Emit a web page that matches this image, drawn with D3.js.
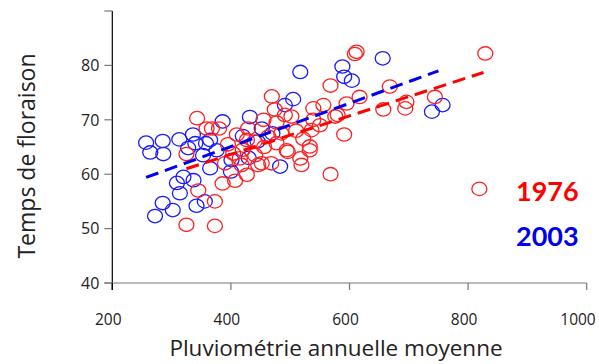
<!DOCTYPE html>
<html>
<head>
<meta charset="utf-8">
<script src="https://cdn.jsdelivr.net/npm/d3@7"></script>
<style>
  body { margin: 0; background: #fff; }
  svg text { font-family: "Open Sans", "Noto Sans", sans-serif; }
</style>
</head>
<body>
<div id="chart"></div>
<script>
// 1976 : pluviométrie / temps de floraison
const rain1976 = [469, 474, 491, 477, 343, 359, 368, 380, 410, 429, 427, 463, 477, 494, 325, 404, 415, 441, 452, 468,
  345, 373, 325, 373, 386, 407, 427, 418, 446, 390, 568, 519, 517, 496, 533, 819,
  612, 609, 568, 668, 617, 696, 694, 657, 595, 591, 744, 829,
  502, 539, 556, 539, 550, 536, 533, 576, 580,
  440, 456, 485, 510, 522, 455, 395, 420];
const flower1976 = [74.3, 71.9, 70.9, 69.5, 70.3, 68.4, 68.4, 68.4, 67.3, 68.4, 66.3, 66.9, 65.7, 64.4, 63.7, 63.8, 62.9, 63.5, 62.0, 62.0,
  57.0, 55.0, 50.7, 50.5, 58.3, 58.8, 59.9, 61.7, 61.7, 62.0, 60.0, 61.7, 62.9, 64.1, 64.4, 57.3,
  82.5, 82.1, 76.3, 76.1, 74.2, 73.3, 72.1, 71.9, 73.0, 67.3, 74.2, 82.2,
  70.6, 72.1, 72.7, 70.0, 69.0, 68.1, 65.1, 70.6, 70.9,
  66.0, 65.0, 67.5, 68.0, 66.5, 70.0, 65.5, 64.5];

// 2003
const rain2003 = [257, 264, 285, 286, 313, 336, 328, 353, 386, 432, 452, 505, 491, 358, 376, 340, 365, 401, 483,
  365, 309, 337, 314, 285, 302, 272, 342, 356, 320,
  517, 656, 588, 591, 604, 739, 757,
  420, 445, 470, 400, 430];
const flower2003 = [65.8, 64.0, 66.1, 63.7, 66.4, 67.3, 64.8, 63.5, 69.7, 70.5, 68.4, 73.8, 72.7, 65.7, 64.4, 65.7, 66.3, 62.6, 61.4,
  61.1, 58.4, 58.9, 56.5, 54.7, 53.4, 52.3, 54.2, 55.0, 59.5,
  78.8, 81.3, 79.8, 77.9, 77.2, 71.5, 72.7,
  67.0, 66.0, 67.5, 60.5, 63.0];

// droites de tendance (début, fin)
const trendX1976 = [325, 826];
const trendY1976 = [61.0, 78.7];
const trendX2003 = [257, 750];
const trendY2003 = [59.4, 79.0];

const xTicks = [200, 400, 600, 800, 1000];
const yTicks = [40, 50, 60, 70, 80, 90];
const yLabels = [40, 50, 60, 70, 80];

const width = 599, height = 364;
const svg = d3.select('#chart').append('svg')
  .attr('width', width)
  .attr('height', height);

const x = d3.scaleLinear().domain([200, 1000]).range([112.3, 586.7]);
const y = d3.scaleLinear().domain([40, 90]).range([283, 11]);

// axe Y
svg.append('line')
  .attr('x1', x(200)).attr('x2', x(200))
  .attr('y1', y(90)).attr('y2', y(40) + 7)
  .attr('stroke', '#000').attr('stroke-width', 1.2);
svg.selectAll('.ytick').data(yTicks).join('line')
  .attr('class', 'ytick')
  .attr('x1', x(200) - 8).attr('x2', x(200))
  .attr('y1', d => y(d)).attr('y2', d => y(d))
  .attr('stroke', '#777').attr('stroke-width', 1.2);
svg.selectAll('.ylab').data(yLabels).join('text')
  .attr('class', 'ylab')
  .attr('x', x(200) - 13)
  .attr('y', d => y(d))
  .attr('dy', '0.36em')
  .attr('text-anchor', 'end')
  .attr('font-size', 16)
  .attr('fill', '#222')
  .text(d => d);

// axe X
svg.append('line')
  .attr('x1', x(200) - 8).attr('x2', x(1000))
  .attr('y1', y(40)).attr('y2', y(40))
  .attr('stroke', '#777').attr('stroke-width', 1.2);
svg.selectAll('.xtick').data(xTicks).join('line')
  .attr('class', 'xtick')
  .attr('x1', d => x(d)).attr('x2', d => x(d))
  .attr('y1', y(40)).attr('y2', y(40) + 7)
  .attr('stroke', d => d === 200 ? '#000' : '#777').attr('stroke-width', 1.2);
svg.selectAll('.xlab').data(xTicks).join('text')
  .attr('class', 'xlab')
  .attr('x', d => d === 1000 ? 578 : x(d) - 4)
  .attr('y', y(40) + 42)
  .attr('text-anchor', 'middle')
  .attr('font-size', 15.5)
  .attr('fill', '#222')
  .text(d => d);

// titres
svg.append('text')
  .attr('x', 336).attr('y', 356)
  .attr('text-anchor', 'middle')
  .attr('font-size', 22.5)
  .attr('fill', '#222')
  .text('Pluviométrie annuelle moyenne');
svg.append('text')
  .attr('transform', 'translate(35,156) rotate(-90)')
  .attr('text-anchor', 'middle')
  .attr('font-size', 23)
  .attr('fill', '#222')
  .text('Temps de floraison');

// points
const pts2003 = rain2003.map((r, i) => ({ r, f: flower2003[i] }));
const pts1976 = rain1976.map((r, i) => ({ r, f: flower1976[i] }));

svg.selectAll('.p2003').data(pts2003).join('ellipse')
  .attr('class', 'p2003')
  .attr('cx', d => x(d.r)).attr('cy', d => y(d.f))
  .attr('rx', 7.5).attr('ry', 6.7)
  .attr('fill', 'none').attr('stroke', '#1a1aff').attr('stroke-width', 1.3);

svg.selectAll('.p1976').data(pts1976).join('ellipse')
  .attr('class', 'p1976')
  .attr('cx', d => x(d.r)).attr('cy', d => y(d.f))
  .attr('rx', 7.5).attr('ry', 6.7)
  .attr('fill', 'none').attr('stroke', '#ff2020').attr('stroke-width', 1.3);

// tendances
const line = d3.line().x(d => x(d[0])).y(d => y(d[1]));
svg.append('path')
  .attr('d', line(d3.zip(trendX2003, trendY2003)))
  .attr('fill', 'none').attr('stroke', '#0000ee')
  .attr('stroke-width', 3).attr('stroke-dasharray', '13,7');
svg.append('path')
  .attr('d', line(d3.zip(trendX1976, trendY1976)))
  .attr('fill', 'none').attr('stroke', '#ff0000')
  .attr('stroke-width', 3).attr('stroke-dasharray', '13,7');

// légende
svg.append('text')
  .attr('x', 516).attr('y', 201)
  .attr('font-size', 27).attr('font-weight', 'bold')
  .attr('fill', '#ff0000')
  .style('font-family', 'Lato, sans-serif')
  .text('1976');
svg.append('text')
  .attr('x', 516).attr('y', 246)
  .attr('font-size', 27).attr('font-weight', 'bold')
  .attr('fill', '#0000ee')
  .style('font-family', 'Lato, sans-serif')
  .text('2003');
</script>
</body>
</html>
